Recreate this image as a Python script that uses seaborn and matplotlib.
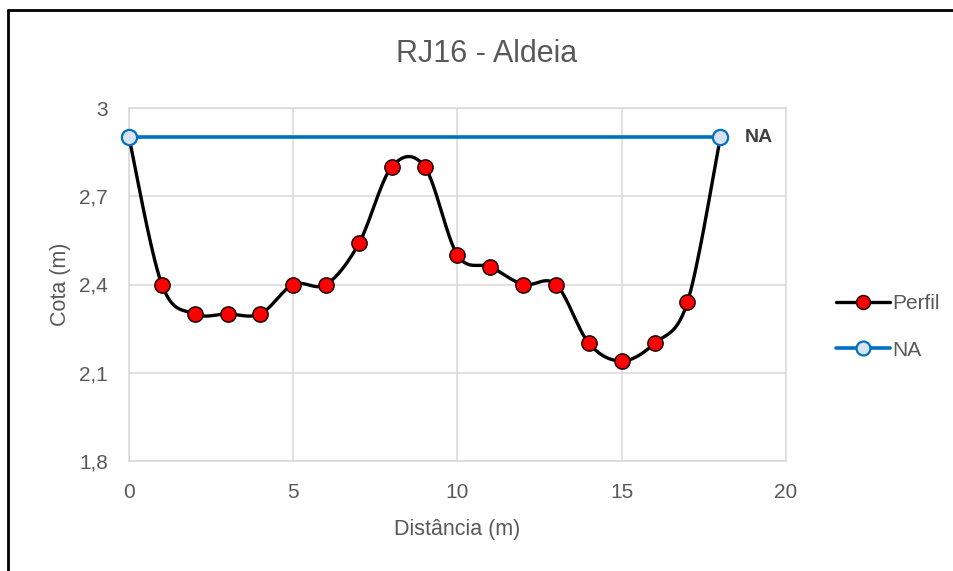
import numpy as np
import matplotlib
matplotlib.use('Agg')
import matplotlib.pyplot as plt
import seaborn as sns
from matplotlib.lines import Line2D

# dados do perfil
distancia = [0, 1, 2, 3, 4, 5, 6, 7, 8, 9, 10, 11, 12, 13, 14, 15, 16, 17, 18]
cota = [2.9, 2.4, 2.3, 2.3, 2.3, 2.4, 2.4, 2.54, 2.8, 2.8, 2.5, 2.46, 2.4, 2.4,
        2.2, 2.14, 2.2, 2.34, 2.9]
na_x = [0, 18]
na_y = [2.9, 2.9]

x_ticks = [0, 5, 10, 15, 20]
y_ticks = [1.8, 2.1, 2.4, 2.7, 3.0]
y_tick_labels = ['1,8', '2,1', '2,4', '2,7', '3']

sns.set_style("white")
plt.rcParams['font.family'] = ['Liberation Sans Narrow', 'Liberation Sans', 'DejaVu Sans']

txt = '#595959'
grid = '#D9D9D9'


# suavização tipo Excel (Bezier / Catmull-Rom) só para desenhar a linha
def smooth(xs, ys, n=30):
    p = np.column_stack([xs, ys]).astype(float)
    pts = []
    for i in range(len(p) - 1):
        p0 = p[i - 1] if i > 0 else p[i]
        p3 = p[i + 2] if i + 2 < len(p) else p[i + 1]
        c1 = p[i] + (p[i + 1] - p0) / 6
        c2 = p[i + 1] - (p3 - p[i]) / 6
        t = np.linspace(0, 1, n, endpoint=False)[:, None]
        b = ((1 - t) ** 3) * p[i] + 3 * ((1 - t) ** 2) * t * c1 + 3 * (1 - t) * t ** 2 * c2 + t ** 3 * p[i + 1]
        pts.append(b)
    pts.append(p[-1:])
    pts = np.vstack(pts)
    return pts[:, 0], pts[:, 1]


fig = plt.figure(figsize=(9.54, 5.71), dpi=100)
ax = fig.add_axes([129 / 954, 110 / 571, 657 / 954, 353 / 571])

sx, sy = smooth(distancia, cota)
sns.lineplot(x=sx, y=sy, sort=False, estimator=None, ax=ax, color='black',
             linewidth=2.4, zorder=3)
sns.scatterplot(x=distancia[1:-1], y=cota[1:-1], ax=ax, color='#FF0000',
                edgecolor='#1A0000', linewidth=1.1, s=120, zorder=4)
sns.lineplot(x=na_x, y=na_y, ax=ax, color='#0070C0', linewidth=2.6, zorder=5)
sns.scatterplot(x=na_x, y=na_y, ax=ax, color='#DAE3F3', edgecolor='#0070C0',
                linewidth=1.6, s=120, zorder=6, clip_on=False)

ax.set_xlim(0, 20)
ax.set_ylim(1.8, 3.0)
ax.set_xticks(x_ticks)
ax.set_yticks(y_ticks)
ax.set_yticklabels(y_tick_labels)
ax.tick_params(axis='x', length=0, pad=16, labelsize=15, labelcolor=txt)
ax.tick_params(axis='y', length=0, pad=15, labelsize=15, labelcolor=txt)
ax.grid(True, color=grid, linewidth=1.1)
ax.set_axisbelow(True)
for s in ax.spines.values():
    s.set_color(grid)
    s.set_linewidth(1.1)

ax.set_xlabel('Distância (m)', fontsize=15.5, color=txt, labelpad=12)
ax.set_ylabel('Cota (m)', fontsize=15.5, color=txt, labelpad=6)

ax.text(18.75, 2.9, 'NA', fontsize=14, fontweight='bold', color='#404040',
        va='center', ha='left')

fig.text(487 / 954, 1 - 54 / 571, 'RJ16 - Aldeia', fontsize=22, color=txt,
         ha='center', va='center')

handles = [
    Line2D([0], [0], color='black', linewidth=2.4, marker='o', markersize=10,
           markerfacecolor='#FF0000', markeredgecolor='#1A0000', markeredgewidth=1.1),
    Line2D([0], [0], color='#0070C0', linewidth=2.6, marker='o', markersize=10,
           markerfacecolor='#DAE3F3', markeredgecolor='#0070C0', markeredgewidth=1.6),
]
leg = fig.legend(handles, ['Perfil', 'NA'], loc='center left',
                 bbox_to_anchor=(828 / 954, 1 - 327 / 571), frameon=False,
                 fontsize=15, handlelength=2.6, handletextpad=0.1,
                 labelspacing=1.3, borderaxespad=0)
for t in leg.get_texts():
    t.set_color(txt)

# moldura do gráfico (cortada à direita e em baixo)
fig.add_artist(Line2D([8.5 / 954, 1], [1 - 10 / 571, 1 - 10 / 571], color='black',
                      linewidth=2, transform=fig.transFigure))
fig.add_artist(Line2D([8.5 / 954, 8.5 / 954], [0, 1 - 10 / 571], color='black',
                      linewidth=2, transform=fig.transFigure))

fig.savefig('out.png', dpi=100)
